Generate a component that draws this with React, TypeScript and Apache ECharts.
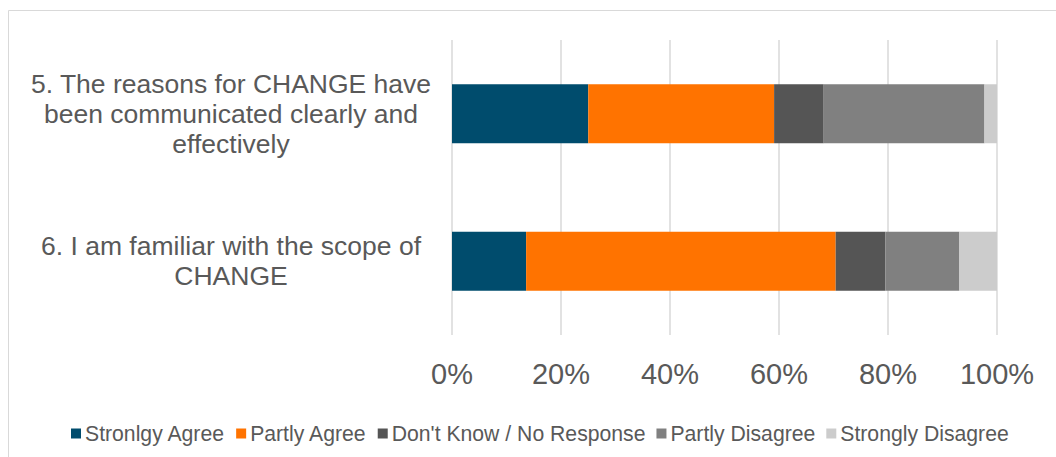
import React, { useEffect, useRef } from "react";
import * as echarts from "echarts";

const categories = [
  "5. The reasons for CHANGE have\nbeen communicated clearly and\neffectively",
  "6. I am familiar with the scope of\nCHANGE",
];
const seriesNames = [
  "Stronlgy Agree",
  "Partly Agree",
  "Don't Know / No Response",
  "Partly Disagree",
  "Strongly Disagree",
];
const stronglyAgree = [25.0, 13.6];
const partlyAgree = [34.1, 56.8];
const dontKnow = [9.1, 9.1];
const partlyDisagree = [29.5, 13.6];
const stronglyDisagree = [2.3, 6.9];
const xTicks = [0, 20, 40, 60, 80, 100];

const colors = ["#004C6D", "#FF7300", "#555555", "#808080", "#CCCCCC"];
const FONT = "Liberation Sans, Arial, Helvetica, sans-serif";

export default function App() {
  const ref = useRef<HTMLDivElement>(null);
  useEffect(() => {
    if (!ref.current) return;
    const chart = echarts.init(ref.current, undefined, { renderer: "svg" });
    const values = [stronglyAgree, partlyAgree, dontKnow, partlyDisagree, stronglyDisagree];
    chart.setOption({
      animation: false,
      textStyle: { fontFamily: FONT },
      color: colors,
      graphic: [
        { type: "line", shape: { x1: 8.5, y1: 10.5, x2: 1056, y2: 10.5 }, style: { stroke: "#d9d9d9", lineWidth: 1 } },
        { type: "line", shape: { x1: 8.5, y1: 10.5, x2: 8.5, y2: 457 }, style: { stroke: "#d9d9d9", lineWidth: 1 } },
      ],
      grid: { left: 452, right: 59, top: 40, bottom: 122, containLabel: false },
      legend: {
        data: seriesNames,
        left: 66,
        top: 418,
        itemWidth: 10,
        itemHeight: 10,
        itemGap: 11,
        icon: "rect",
        textStyle: { fontSize: 21.2, color: "#595959", fontFamily: FONT, padding: [0, 0, 0, -1] },
      },
      xAxis: {
        type: "value",
        min: xTicks[0],
        max: xTicks[xTicks.length - 1],
        interval: 20,
        axisLine: { show: false },
        axisTick: { show: false },
        splitLine: { show: true, lineStyle: { color: "#d9d9d9", width: 1.5 } },
        axisLabel: {
          formatter: "{value}%",
          fontSize: 29,
          color: "#595959",
          margin: 24,
          fontFamily: FONT,
        },
      },
      yAxis: {
        type: "category",
        data: categories,
        inverse: true,
        axisLine: { show: false },
        axisTick: { show: false },
        axisLabel: {
          align: "center",
          margin: 221,
          fontSize: 26.5,
          lineHeight: 30,
          color: "#595959",
          fontFamily: FONT,
        },
      },
      series: seriesNames.map((name, i) => ({
        name,
        type: "bar",
        stack: "total",
        barWidth: "40%",
        data: values[i],
        itemStyle: { color: colors[i] },
      })),
    });
    return () => chart.dispose();
  }, []);
  return (
    <div
      ref={ref}
      style={{ position: "fixed", left: 0, top: 0, width: 1056, height: 457, background: "#fff" }}
    />
  );
}
